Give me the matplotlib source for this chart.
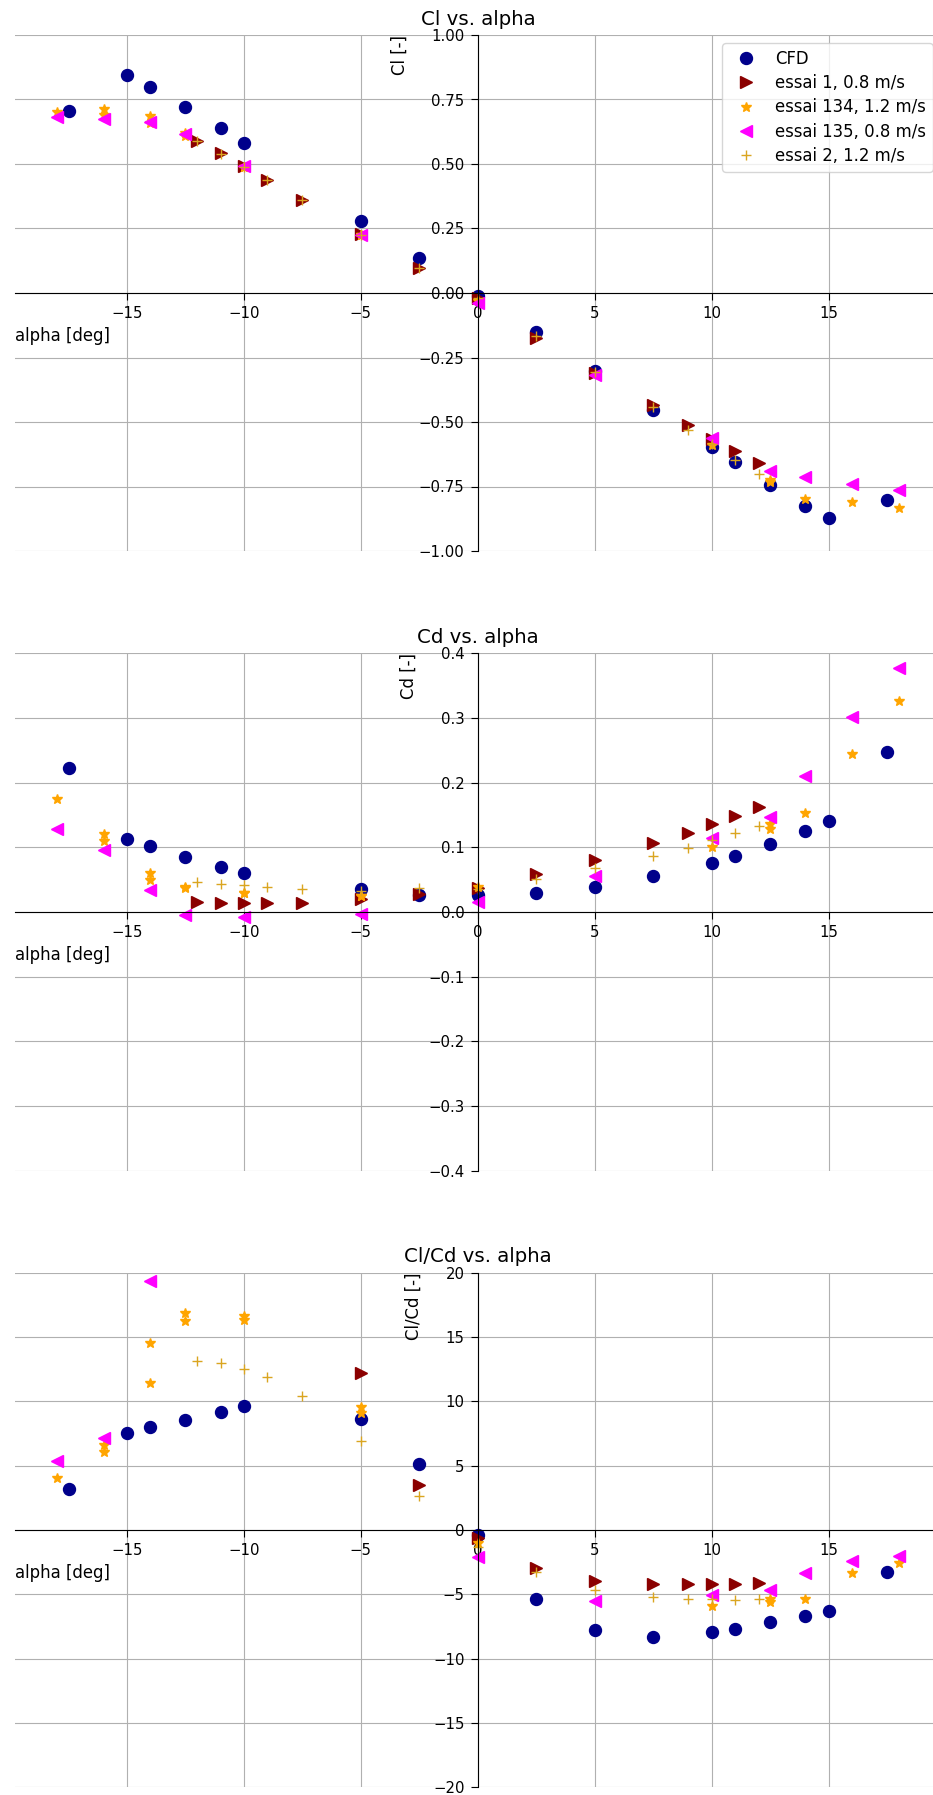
import numpy as np
import matplotlib
matplotlib.use('Agg')
import matplotlib.pyplot as plt

nan = np.nan

# CFD
alpha_cfd = [-17.5, -15, -14, -12.5, -11, -10, -5, -2.5, 0, 2.5, 5, 7.5, 10, 11, 12.5, 14, 15, 17.5]
cl_cfd = [0.706, 0.845, 0.80, 0.72, 0.638, 0.581, 0.279, 0.136, -0.01, -0.151, -0.303, -0.455,
          -0.595, -0.656, -0.744, -0.824, -0.873, -0.804]
cd_cfd = [0.2227, 0.113, 0.102, 0.085, 0.070, 0.061, 0.035, 0.026, 0.026, 0.030, 0.039, 0.0557,
          0.0758, 0.087, 0.105, 0.126, 0.141, 0.248]
clcd_cfd = [3.16, 7.51, 7.98, 8.55, 9.19, 9.66, 8.62, 5.10, -0.39, -5.36, -7.77, -8.31,
            -7.95, -7.67, -7.12, -6.66, -6.27, -3.29]

# essai 1, 0.8 m/s
alpha_e1 = [-12, -11, -10, -9, -7.5, -5, -2.5, 0, 2.5, 5, 7.5, 9, 10, 11, 12]
cl_e1 = [0.590, 0.541, 0.493, 0.437, 0.360, 0.227, 0.095, -0.02, -0.173, -0.31, -0.436, -0.513,
         -0.565, -0.613, -0.660]
cd_e1 = [0.016, 0.0144, 0.0144, 0.0134, 0.0144, 0.0196, 0.028, 0.037, 0.0585, 0.080, 0.106, 0.1227,
         0.136, 0.148, 0.163]
clcd_e1 = [nan, nan, nan, nan, nan, 12.22, 3.50, -0.6, -2.98, -3.94, -4.22, -4.2, -4.2, -4.2, -4.09]

# essai 134, 1.2 m/s
alpha_e134 = [-18, -16, -16, -14, -14, -12.5, -12.5, -10, -10, -5, -5, 0, 10, 12.5, 12.5, 14, 16, 18]
cl_e134 = [0.70, 0.713, 0.69, 0.687, 0.66, 0.62, 0.61, 0.49, 0.49, 0.225, 0.225, -0.03, -0.591,
           -0.731, -0.725, -0.80, -0.811, -0.832]
cd_e134 = [0.174, 0.120, 0.110, 0.061, 0.049, 0.038, 0.037, 0.030, 0.030, 0.024, 0.025, 0.038, 0.100,
           0.136, 0.129, 0.153, 0.245, 0.326]
clcd_e134 = [4.02, 6.03, 6.60, 11.45, 14.5, 16.27, 16.9, 16.32, 16.63, 9.58, 9.12, -1.0, -5.9,
             -5.37, -5.62, -5.34, -3.32, -2.54]

# essai 135, 0.8 m/s
alpha_e135 = [-18, -16, -14, -12.5, -10, -5, 0, 5, 10, 12.5, 14, 16, 18]
cl_e135 = [0.683, 0.674, 0.661, 0.615, 0.492, 0.224, -0.039, -0.316, -0.561, -0.691, -0.714, -0.74, -0.762]
cd_e135 = [0.128, 0.0959, 0.034, -0.0046, -0.0072, -0.0036, 0.016, 0.0557, 0.114, 0.147, 0.211, 0.302, 0.377]
clcd_e135 = [5.38, 7.12, 19.35, nan, nan, nan, -2.07, -5.52, -5.05, -4.66, -3.37, -2.41, -2.02]

# essai 2, 1.2 m/s
alpha_e2 = [-12, -11, -10, -9, -7.5, -5, -2.5, 0, 2.5, 5, 7.5, 9, 10, 11, 12]
cl_e2 = [0.59, 0.54, 0.49, 0.437, 0.36, 0.225, 0.095, -0.02, -0.165, -0.305, -0.44, -0.530,
         -0.587, -0.649, -0.70]
cd_e2 = [0.046, 0.043, 0.041, 0.039, 0.0356, 0.0326, 0.0366, 0.035, 0.0505, 0.0675, 0.0866, 0.0995,
         0.111, 0.1217, 0.1335]
clcd_e2 = [13.13, 12.95, 12.48, 11.86, 10.41, 6.91, 2.64, -1.3, -3.24, -4.66, -5.23, -5.39,
           -5.4, -5.44, -5.34]

series = [
    ('CFD', alpha_cfd, [cl_cfd, cd_cfd, clcd_cfd], 'o', 'darkblue', 8.6),
    ('essai 1, 0.8 m/s', alpha_e1, [cl_e1, cd_e1, clcd_e1], '>', 'darkred', 8.6),
    ('essai 134, 1.2 m/s', alpha_e134, [cl_e134, cd_e134, clcd_e134], '*', 'orange', 7.5),
    ('essai 135, 0.8 m/s', alpha_e135, [cl_e135, cd_e135, clcd_e135], '<', 'magenta', 8.6),
    ('essai 2, 1.2 m/s', alpha_e2, [cl_e2, cd_e2, clcd_e2], '+', 'goldenrod', 7.5),
]

names = ['Cl', 'Cd', 'Cl/Cd']
ylims = [(-1, 1), (-0.4, 0.4), (-20, 20)]

plt.rcParams['font.size'] = 11.9
plt.rcParams['xtick.labelsize'] = 10.7
plt.rcParams['ytick.labelsize'] = 10.7
plt.rcParams['axes.titlesize'] = 14.2
plt.rcParams['xtick.major.size'] = 5
plt.rcParams['ytick.major.size'] = 5
plt.rcParams['xtick.major.pad'] = 4.5
plt.rcParams['ytick.major.pad'] = 4.5

W, H = 933, 1795
fig = plt.figure(figsize=(W / 100, H / 100), dpi=100)

# axes boxes in pixels: (top, bottom)
boxes = [(35, 551), (653.3, 1170.7), (1272.7, 1787.3)]
left_px, right_px = 14.7, 941.0

for i, name in enumerate(names):
    top, bot = boxes[i]
    ax = fig.add_axes([left_px / W, 1 - bot / H, (right_px - left_px) / W, (bot - top) / H])
    for label, a, vals, m, c, ms in series:
        ax.plot(a, vals[i], m, color=c, ms=ms, ls='none', label=label)
    ax.set_xlim(-19.8, 19.8)
    ax.set_ylim(*ylims[i])
    ax.spines['left'].set_position(('data', 0))
    ax.spines['bottom'].set_position(('data', 0))
    ax.spines['top'].set_visible(False)
    ax.spines['right'].set_visible(False)
    ax.grid(True)
    ax.set_axisbelow(True)
    ax.set_title(name + ' vs. alpha', pad=7.5)
    ax.set_xlabel('alpha [deg]', loc='left')
    ax.set_ylabel(name + ' [-]', loc='top', labelpad=7.5)
    if i == 0:
        ax.legend(loc='upper right', labelspacing=0.38)

fig.savefig('out.png', dpi=100)
